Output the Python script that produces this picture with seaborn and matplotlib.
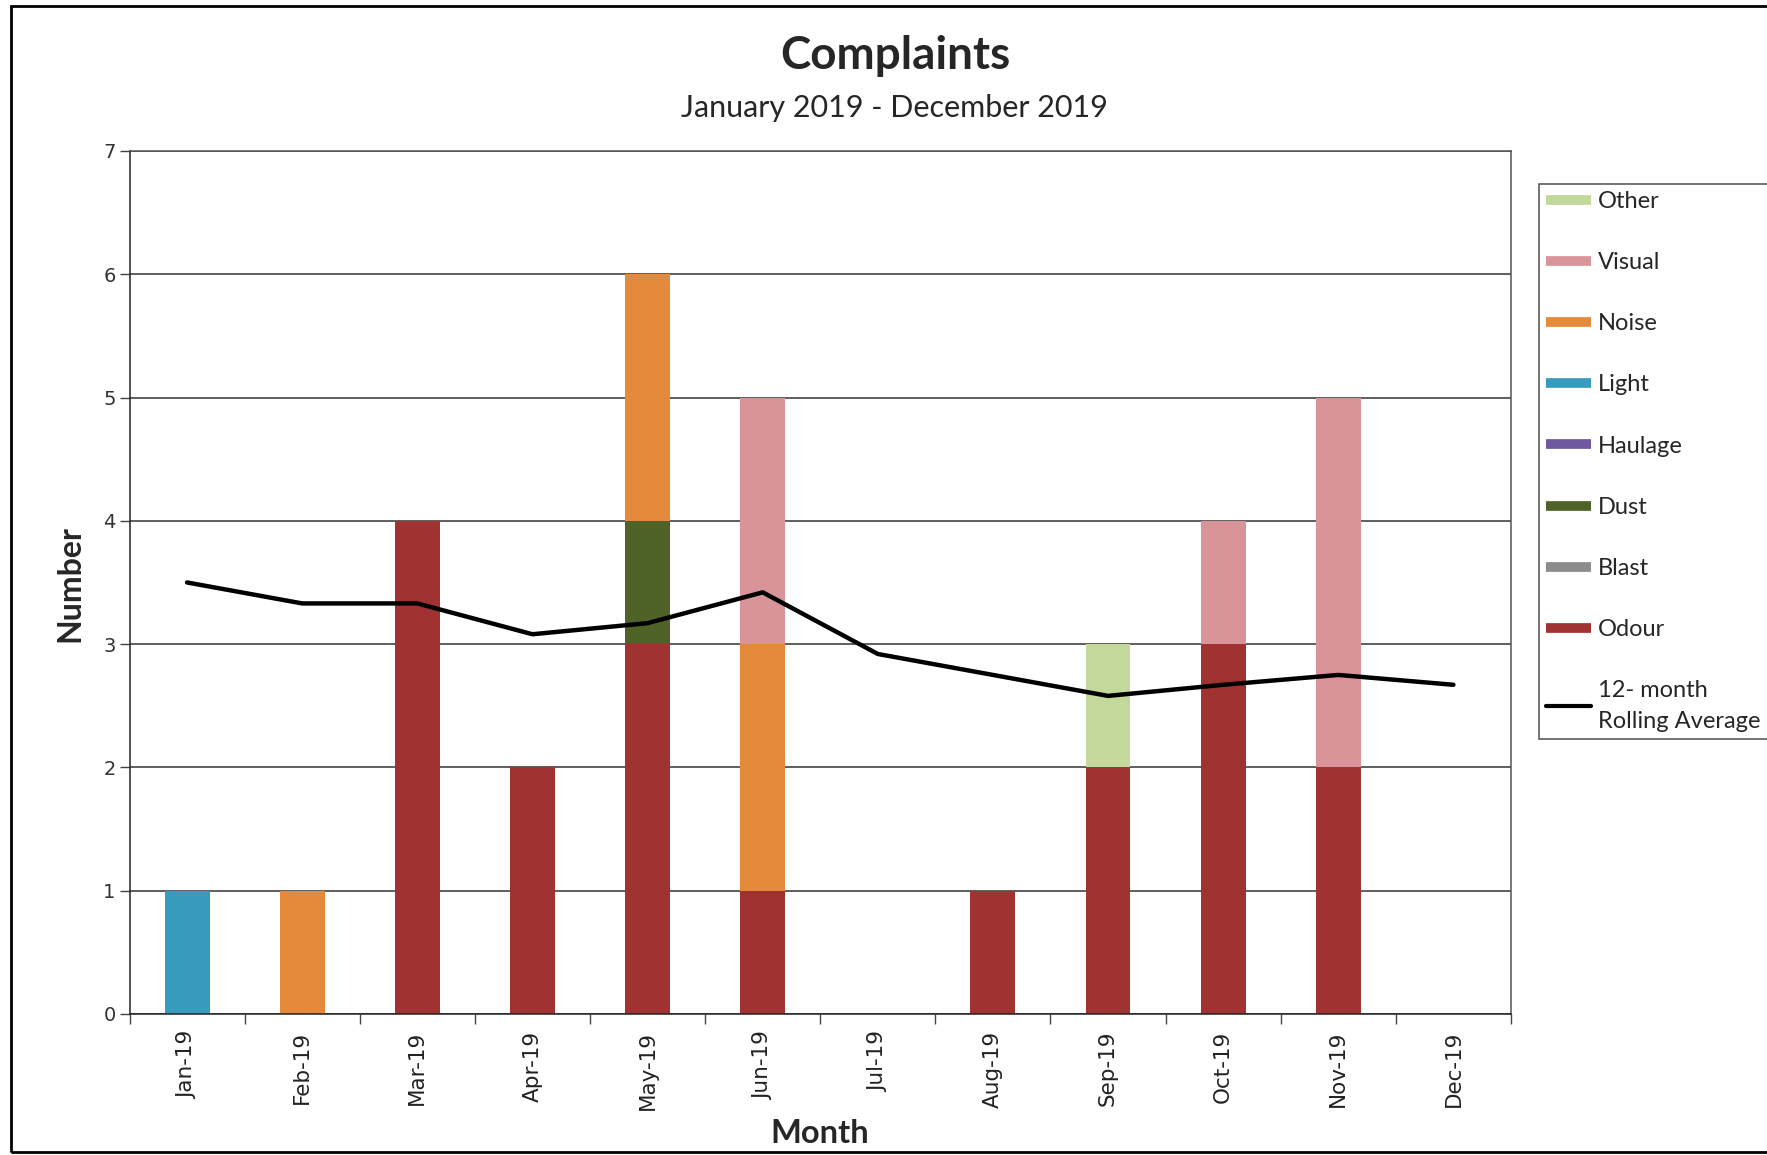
import numpy as np
import matplotlib
matplotlib.use("Agg")
import matplotlib.pyplot as plt
from matplotlib.lines import Line2D
from matplotlib.patches import Rectangle
import seaborn as sns

# Monthly complaint counts by category, 2019
months = ["Jan-19", "Feb-19", "Mar-19", "Apr-19", "May-19", "Jun-19",
          "Jul-19", "Aug-19", "Sep-19", "Oct-19", "Nov-19", "Dec-19"]
odour = [0, 0, 4, 2, 3, 1, 0, 1, 2, 3, 2, 0]
blast = [0, 0, 0, 0, 0, 0, 0, 0, 0, 0, 0, 0]
dust = [0, 0, 0, 0, 1, 0, 0, 0, 0, 0, 0, 0]
haulage = [0, 0, 0, 0, 0, 0, 0, 0, 0, 0, 0, 0]
light = [1, 0, 0, 0, 0, 0, 0, 0, 0, 0, 0, 0]
noise = [0, 1, 0, 0, 2, 2, 0, 0, 0, 0, 0, 0]
visual = [0, 0, 0, 0, 0, 2, 0, 0, 0, 1, 3, 0]
other = [0, 0, 0, 0, 0, 0, 0, 0, 1, 0, 0, 0]
rolling_avg = [3.50, 3.33, 3.33, 3.08, 3.17, 3.42, 2.92, 2.75, 2.58, 2.67, 2.75, 2.67]

# Stack order, bottom to top
series = [
    ("Odour", odour, "#A03232"),
    ("Blast", blast, "#8C8C8C"),
    ("Dust", dust, "#4F6228"),
    ("Haulage", haulage, "#7058A0"),
    ("Light", light, "#389BBE"),
    ("Noise", noise, "#E58A3A"),
    ("Visual", visual, "#D9949A"),
    ("Other", other, "#C3D89B"),
]

sns.set_theme(style="white")
plt.rcParams["font.family"] = ["DejaVu Sans"]

fig = plt.figure(figsize=(17.67, 11.55), dpi=100)
ax = fig.add_axes([0.0733, 0.1221, 0.7818, 0.7472])

# Stacked bars: draw cumulative totals from the top layer down
cum = np.cumsum(np.array([s[1] for s in series], dtype=float), axis=0)
for i in reversed(range(len(series))):
    sns.barplot(x=months, y=cum[i], order=months, color=series[i][2],
                saturation=1, width=0.39, linewidth=0, errorbar=None, ax=ax)

sns.lineplot(x=months, y=rolling_avg, sort=False, color="black",
             linewidth=3.2, ax=ax)

ax.set_xlim(-0.5, 11.5)
ax.set_ylim(0, 7)
ax.set_yticks(range(0, 8))
ax.set_xticks(range(12))
ax.set_xticklabels(months, rotation=90, fontsize=15.5, color="#222222")
ax.set_xticks(np.arange(-0.5, 12, 1), minor=True)
ax.tick_params(axis="x", which="major", length=0, pad=12)
ax.tick_params(axis="x", which="minor", bottom=True, length=7, width=1,
               color="#444444", direction="out")
ax.tick_params(axis="y", left=True, length=7, width=1, color="#444444",
               direction="out", labelsize=14, labelcolor="#333333", pad=3)

ax.yaxis.grid(True, color="#333333", linewidth=1.1)
ax.xaxis.grid(False)
ax.set_axisbelow(True)
for side in ["left", "bottom", "top", "right"]:
    ax.spines[side].set_visible(True)
    ax.spines[side].set_linewidth(1.1)
    ax.spines[side].set_color("#555555")
ax.spines["left"].set_color("#222222")
ax.spines["bottom"].set_color("#222222")

ax.set_xlabel("")
ax.set_ylabel("")

fig.text(0.507, 0.9515, "Complaints", ha="center", va="center",
         fontsize=33, fontweight="bold", family="Lato")
fig.text(0.506, 0.9065, "January 2019 - December 2019", ha="center",
         va="center", fontsize=22, family="Lato")
fig.text(0.464, 0.019, "Month", ha="center", va="center",
         fontsize=23.5, fontweight="bold", family="Lato")
fig.text(0.0396, 0.4944, "Number", ha="center", va="center", rotation=90,
         fontsize=23, fontweight="bold", family="Lato")

# Legend, top layer first
handles = [Line2D([0], [0], color=c, lw=7, solid_capstyle="butt")
           for _, _, c in reversed(series)]
labels = [n for n, _, _ in reversed(series)]
handles.append(Line2D([0], [0], color="black", lw=3))
labels.append("12- month\nRolling Average")
leg = fig.legend(handles, labels, loc="upper left",
                 bbox_to_anchor=(0.871, 0.8407),
                 bbox_transform=fig.transFigure,
                 prop={"family": "Lato", "size": 17},
                 labelspacing=1.7, handlelength=1.9, handletextpad=0.3,
                 borderpad=0.3, borderaxespad=0, frameon=True, fancybox=False)
leg.get_texts()[-1].set_linespacing(1.55)
leg.get_frame().set_edgecolor("#222222")
leg.get_frame().set_linewidth(1.1)

# Outer chart frame
fig.patches.append(Rectangle((11 / 1767, 3 / 1155), 1.2, (1155 - 9) / 1155,
                             transform=fig.transFigure, fill=False,
                             edgecolor="black", linewidth=2))

fig.savefig("out.png", dpi=100)
